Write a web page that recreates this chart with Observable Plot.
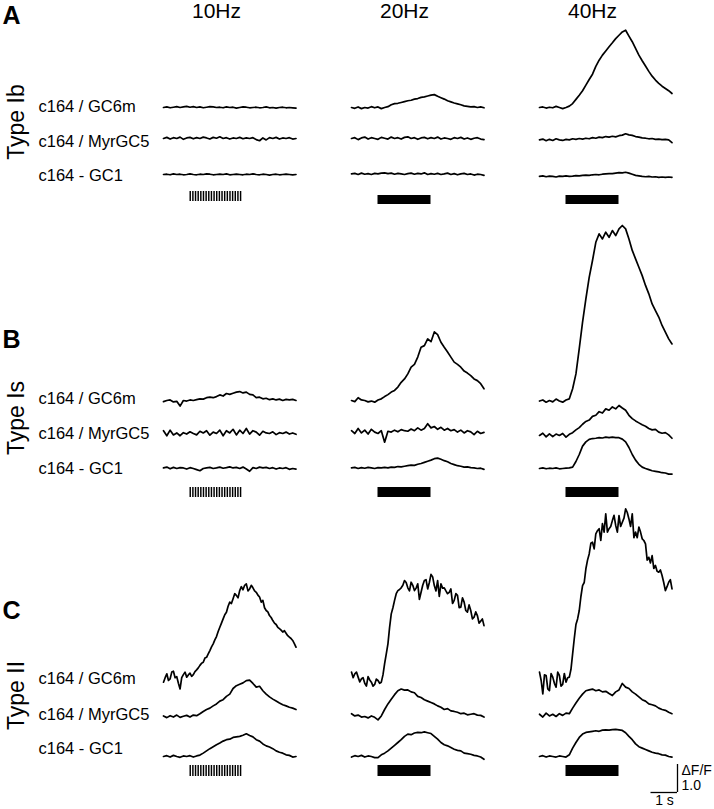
<!DOCTYPE html>
<html>
<head>
<meta charset="utf-8">
<script src="https://cdn.jsdelivr.net/npm/d3@7"></script>
<script src="https://cdn.jsdelivr.net/npm/@observablehq/plot@0.6"></script>
<style>
  html, body { margin: 0; padding: 0; background: #fff; }
  #chart svg { display: block; }
</style>
</head>
<body>
<div id="chart"></div>
<script>
// ---------------- data ----------------
const frequencies = ["10Hz", "20Hz", "40Hz"];
const panels = ["A", "B", "C"];
const panelTypes = ["Type Ib", "Type Is", "Type II"];
const sensors = ["c164 / GC6m", "c164 / MyrGC5", "c164 - GC1"];
const traceDuration = 5;      // s, each trace
const stimStart = 1;          // s
const stimDuration = 2;       // s
const stimRates = [10, 20, 40];
const scaleBarTime = 1;       // s
const scaleBarDF = 1.0;       // ΔF/F

// ΔF/F traces, samples evenly spaced over traceDuration
// Panel A — Type Ib
const A10_GC6m   = [0.0,0.02,-0.01,0.01,0.03,0.0,0.02,0.04,0.01,0.03,0.0,0.02,-0.01,0.01,0.03,0.02,0.0,0.01,-0.01,0.02,0.0,0.01,-0.02,0.0,0.02,0.01,-0.01,0.0,0.01,-0.01,0.0,0.02,-0.01,0.0,-0.02,0.0,0.01,-0.01,0.0,-0.01,-0.02];
const A10_MyrGC5 = [0.0,0.04,-0.02,0.03,0.0,0.05,-0.03,0.02,0.04,-0.01,0.03,0.0,0.05,0.02,-0.02,0.04,0.01,0.06,0.0,0.03,-0.02,0.02,0.0,0.04,-0.01,0.02,0.0,0.03,-0.04,-0.08,0.02,-0.05,0.03,0.0,0.04,-0.02,0.02,0.0,0.03,-0.02,0.0];
const A10_GC1    = [0.0,0.01,-0.01,0.02,0.0,0.01,-0.01,0.0,0.02,0.0,-0.01,0.01,0.0,0.02,0.01,-0.01,0.0,0.01,0.0,0.02,-0.01,0.0,0.01,0.0,-0.01,0.01,0.0,0.02,0.0,-0.01,0.01,0.0,-0.02,0.0,0.01,-0.01,0.0,0.01,0.0,-0.01,0.0];
const A20_GC6m   = [0.0,-0.03,0.02,-0.04,0.0,-0.02,0.03,-0.01,0.02,-0.04,0.0,0.03,0.1,0.14,0.15,0.18,0.21,0.24,0.26,0.3,0.32,0.36,0.38,0.41,0.44,0.46,0.4,0.35,0.3,0.24,0.2,0.16,0.13,0.1,0.06,0.04,0.02,0.03,0.0,0.02,-0.01];
const A20_MyrGC5 = [0.0,0.03,-0.04,0.02,0.05,-0.02,0.03,0.0,-0.03,0.04,0.01,-0.02,0.05,0.0,0.03,-0.02,0.04,0.06,0.0,0.03,-0.03,0.02,0.04,-0.01,0.03,0.0,0.05,-0.02,0.02,0.0,-0.03,0.03,0.0,0.04,-0.02,0.02,-0.03,0.01,0.03,-0.02,-0.04];
const A20_GC1    = [0.02,0.04,0.0,0.05,0.01,0.03,0.0,0.04,0.02,0.05,0.06,0.03,0.05,0.01,0.04,0.02,0.0,0.03,0.05,0.01,0.04,0.02,0.06,0.0,0.03,0.01,0.04,0.0,0.02,0.05,0.0,0.03,-0.01,0.02,0.04,0.0,0.02,-0.02,0.01,0.0,-0.03];
const A40_GC6m   = [0.0,0.02,-0.02,0.01,-0.01,0.04,0.0,-0.04,0.0,0.05,0.14,0.29,0.44,0.6,0.8,1.0,1.19,1.47,1.69,1.87,2.02,2.17,2.31,2.46,2.58,2.7,2.76,2.55,2.35,2.11,1.87,1.67,1.48,1.29,1.12,0.98,0.86,0.76,0.68,0.6,0.5];
const A40_MyrGC5 = [-0.05,-0.02,-0.08,-0.03,-0.07,-0.01,-0.05,-0.07,-0.03,-0.05,-0.01,-0.03,0.0,-0.02,0.01,-0.01,0.03,0.01,0.05,0.03,0.07,0.05,0.08,0.06,0.1,0.12,0.17,0.13,0.11,0.07,0.05,0.02,0.01,-0.01,0.0,-0.03,-0.02,-0.04,-0.03,-0.05,-0.15];
const A40_GC1    = [-0.07,-0.05,-0.08,-0.06,-0.07,-0.09,-0.06,-0.07,-0.05,-0.07,-0.06,-0.04,-0.05,-0.03,-0.02,-0.03,-0.01,0.0,-0.01,0.01,0.02,0.03,0.03,0.05,0.07,0.06,0.08,0.05,0.01,-0.03,-0.05,-0.07,-0.08,-0.07,-0.09,-0.08,-0.1,-0.09,-0.1,-0.09,-0.1];
// Panel B — Type Is
const B10_GC6m   = [-0.04,0.0,0.02,-0.05,-0.03,-0.2,0.0,-0.02,0.02,0.0,0.03,0.06,0.05,0.1,0.12,0.1,0.14,0.2,0.16,0.25,0.22,0.26,0.3,0.32,0.27,0.3,0.22,0.2,0.1,0.12,0.06,0.08,0.03,0.06,0.02,0.05,0.0,0.04,0.02,0.04,0.0];
const B10_MyrGC5 = [0.1,-0.08,0.12,-0.05,0.02,-0.08,0.03,-0.02,0.06,0.0,-0.05,0.08,0.02,0.1,-0.06,0.05,0.0,0.12,-0.08,0.1,0.02,0.15,-0.05,0.12,0.0,0.18,-0.02,0.1,0.05,-0.06,0.08,0.02,0.0,0.06,-0.04,0.03,0.0,0.05,-0.02,0.02,-0.03];
const B10_GC1    = [0.02,0.05,-0.01,0.04,0.0,0.03,0.02,-0.02,0.03,0.0,-0.04,-0.08,0.0,0.02,0.04,0.0,0.02,0.05,0.01,0.03,0.06,0.02,0.04,0.0,0.05,-0.02,-0.1,0.03,0.0,0.05,0.02,0.04,0.0,0.03,-0.02,0.02,0.0,0.03,-0.03,0.0,-0.02];
const B20_GC6m   = [0.0,-0.04,0.1,0.02,0.0,-0.05,-0.02,-0.06,0.02,0.06,0.14,0.21,0.3,0.36,0.48,0.65,0.77,0.95,1.19,1.29,1.55,1.9,1.96,2.2,2.1,2.45,2.35,2.08,1.9,1.73,1.55,1.37,1.29,1.19,1.05,0.98,0.89,0.77,0.71,0.6,0.42];
const B20_MyrGC5 = [0.1,0.0,0.18,0.02,0.12,-0.02,0.15,0.05,0.0,0.1,-0.31,0.08,0.05,0.12,0.06,0.14,0.1,0.08,0.16,0.1,0.2,0.12,0.18,0.35,0.2,0.25,0.15,0.22,0.12,0.18,0.1,0.14,0.05,0.12,0.02,0.1,0.06,-0.04,0.08,0.0,0.04];
const B20_GC1    = [0.02,0.04,0.0,0.03,0.01,0.04,0.02,0.0,0.03,0.02,0.04,0.02,0.05,0.04,0.07,0.06,0.08,0.1,0.12,0.11,0.15,0.18,0.22,0.26,0.3,0.35,0.37,0.33,0.28,0.24,0.18,0.14,0.1,0.08,0.05,0.06,0.03,0.02,0.0,0.01,-0.03];
const B40_GC6m   = [-0.02,0.02,-0.06,0.0,-0.05,0.05,-0.02,-0.06,0.02,0.06,0.42,0.95,1.85,2.8,3.63,4.4,5.0,5.65,5.95,5.77,6.01,5.83,6.07,5.89,6.13,6.25,6.13,5.77,5.36,5.06,4.76,4.46,4.11,3.81,3.45,3.21,2.98,2.68,2.44,2.2,2.02];
const B40_MyrGC5 = [-0.07,0.01,-0.12,-0.01,-0.11,-0.02,-0.07,0.0,-0.13,-0.03,0.03,0.13,0.21,0.33,0.43,0.48,0.61,0.65,0.78,0.73,0.88,0.83,0.95,0.88,1.0,0.91,0.83,0.65,0.53,0.45,0.38,0.31,0.26,0.18,0.13,0.15,0.05,0.01,0.03,-0.05,-0.17];
const B40_GC1    = [0.0,0.02,-0.01,0.01,0.0,0.02,-0.01,0.0,0.01,0.02,0.05,0.25,0.5,0.8,0.95,1.04,1.07,1.08,1.1,1.09,1.12,1.1,1.12,1.1,1.1,1.05,0.95,0.75,0.5,0.3,0.15,0.05,0.0,-0.04,-0.08,-0.1,-0.12,-0.15,-0.16,-0.2,-0.2];
// Panel C — Type II
const C10_GC6m   = [-0.06,0.1,0.24,0.0,0.06,0.3,0.33,0.1,0.14,-0.1,-0.3,0.1,0.21,0.3,0.12,0.2,0.26,0.15,0.21,0.32,0.38,0.45,0.54,0.62,0.65,0.8,0.83,0.95,1.07,1.2,1.31,1.45,1.57,1.75,1.9,2.05,2.2,2.35,2.44,2.65,2.8,2.75,2.92,3.1,3.04,2.95,3.21,3.35,3.24,3.4,3.45,3.2,3.27,3.4,3.31,3.2,3.15,3.05,2.98,2.8,2.86,2.6,2.5,2.45,2.32,2.25,2.14,2.05,2.0,1.9,1.85,1.8,1.73,1.78,1.69,1.6,1.55,1.5,1.43,1.32,1.19];
const C10_MyrGC5 = [0.02,-0.04,0.03,-0.02,0.05,-0.03,0.01,0.04,-0.02,0.05,0.03,0.1,0.18,0.25,0.3,0.38,0.45,0.55,0.6,0.72,0.8,1.0,1.1,1.15,1.2,1.28,1.3,1.18,1.05,1.08,0.92,0.8,0.7,0.62,0.55,0.48,0.42,0.38,0.33,0.3,0.25];
const C10_GC1    = [0.0,0.03,-0.02,0.04,0.0,-0.03,0.02,0.0,0.03,-0.02,0.02,0.05,0.12,0.2,0.28,0.35,0.42,0.48,0.55,0.6,0.62,0.68,0.7,0.72,0.76,0.81,0.75,0.7,0.6,0.55,0.45,0.38,0.34,0.28,0.2,0.15,0.12,0.06,0.04,-0.02,0.0];
const C20_GC6m   = [0.3,0.1,0.24,0.3,0.12,-0.05,0.06,0.1,-0.1,-0.2,0.14,0.02,-0.06,-0.2,-0.14,0.05,0.0,-0.1,-0.06,0.2,0.6,0.95,1.31,1.9,2.38,2.6,2.86,3.1,3.21,3.25,3.31,3.4,3.57,3.5,3.31,3.2,3.51,3.4,3.21,3.3,3.45,2.9,3.15,3.4,3.57,3.6,3.27,3.5,3.79,3.7,3.39,3.2,3.57,3.0,3.45,3.3,3.31,3.2,3.1,3.15,3.27,2.75,2.86,3.1,3.04,2.6,2.62,2.95,2.8,2.5,2.44,2.7,2.5,2.2,2.26,2.45,2.32,2.05,2.12,2.2,1.96];
const C20_MyrGC5 = [0.1,0.02,0.05,-0.02,0.0,-0.05,0.02,-0.03,-0.12,0.02,0.25,0.45,0.62,0.78,0.92,0.98,0.94,0.95,0.88,0.85,0.72,0.68,0.6,0.55,0.5,0.45,0.38,0.33,0.25,0.28,0.2,0.18,0.15,0.1,0.12,0.06,0.08,0.1,0.05,0.04,-0.02];
const C20_GC1    = [-0.02,0.03,0.0,0.04,-0.02,0.02,0.0,-0.04,-0.04,0.06,0.12,0.2,0.3,0.4,0.5,0.6,0.72,0.8,0.78,0.84,0.86,0.85,0.88,0.85,0.82,0.72,0.62,0.5,0.42,0.38,0.32,0.26,0.22,0.2,0.12,0.1,0.08,0.04,0.02,-0.02,-0.1];
const C40_GC6m   = [0.3,0.0,-0.48,0.2,0.18,-0.3,-0.36,0.25,0.12,-0.1,-0.24,0.3,0.18,-0.2,-0.14,0.25,-0.06,0.1,0.12,0.4,0.95,1.5,2.0,2.2,2.5,3.0,3.39,3.5,3.99,4.3,4.52,4.9,4.94,4.7,5.24,5.35,5.42,5.0,5.6,5.3,5.95,5.3,5.42,5.5,5.71,5.9,5.54,5.3,5.89,5.5,5.65,5.8,6.13,6.0,5.77,5.5,5.95,5.1,5.3,5.1,5.48,5.3,5.06,5.0,4.88,4.3,4.4,4.2,4.46,4.0,4.11,3.9,3.87,3.95,3.75,3.5,3.21,3.35,3.51,3.6,3.27];
const C40_MyrGC5 = [0.08,-0.02,0.12,0.02,0.08,0.0,0.1,0.04,0.12,0.1,0.3,0.48,0.65,0.8,0.92,0.95,0.98,0.92,0.95,0.88,0.9,0.82,0.75,0.88,0.95,1.18,1.05,1.0,0.88,0.8,0.7,0.6,0.55,0.45,0.42,0.38,0.3,0.25,0.22,0.15,0.1];
const C40_GC1    = [0.0,0.03,-0.02,0.02,0.0,-0.02,0.02,0.0,-0.02,0.06,0.3,0.5,0.68,0.8,0.86,0.88,0.9,0.92,0.9,0.94,0.95,0.94,0.96,0.97,0.95,0.93,0.85,0.72,0.6,0.45,0.35,0.3,0.25,0.2,0.15,0.12,0.1,0.06,0.05,0.0,-0.02];

// traces[panel][frequency index][sensor index]
const traces = {
  A: [[A10_GC6m, A10_MyrGC5, A10_GC1], [A20_GC6m, A20_MyrGC5, A20_GC1], [A40_GC6m, A40_MyrGC5, A40_GC1]],
  B: [[B10_GC6m, B10_MyrGC5, B10_GC1], [B20_GC6m, B20_MyrGC5, B20_GC1], [B40_GC6m, B40_MyrGC5, B40_GC1]],
  C: [[C10_GC6m, C10_MyrGC5, C10_GC1], [C20_GC6m, C20_MyrGC5, C20_GC1], [C40_GC6m, C40_MyrGC5, C40_GC1]]
};

// ---------------- layout (pixels) ----------------
const W = 714, H = 809;
const PX_PER_S = 26.5, PX_PER_DF = 28;
const firstColPx = 163, colStepPx = 188;
const colOffset = fi => fi * colStepPx / PX_PER_S;     // column shift in time units
const X = px => (px - firstColPx) / PX_PER_S;           // pixel -> x units
const Y = px => -px / PX_PER_DF;                        // pixel -> y units
const rowBase = { A: [107, 138, 174], B: [400, 433, 468], C: [680, 716, 756] };
const stimRowPx = {
  A: { tick: [191, 201], bar: [195, 204] },
  B: { tick: [487, 497], bar: [487, 497] },
  C: { tick: [765, 776], bar: [765, 776] }
};
const labelY = { A: [106.5, 141, 175], B: [398, 433.5, 468], C: [678, 714, 748] };
const letterBaseline = { A: 23, B: 347, C: 618 };
const typeCenter = { A: 121.5, B: 417.5, C: 695 };
const FONT = "'Liberation Sans', Arial, Helvetica, sans-serif";

// ---------------- build mark data ----------------
const lineData = [];
panels.forEach(p => frequencies.forEach((f, fi) => sensors.forEach((s, si) => {
  const vals = traces[p][fi][si];
  const n = vals.length;
  vals.forEach((v, i) => lineData.push({
    key: `${p}-${f}-${si}`,
    t: colOffset(fi) + i * traceDuration / (n - 1),
    y: Y(rowBase[p][si]) + v
  }));
})));

const pulseData = [];   // 10 Hz individual pulses
const barData = [];     // 20 / 40 Hz trains, drawn as solid bars
panels.forEach(p => {
  const nPulses = stimRates[0] * stimDuration;
  for (let k = 0; k < nPulses; k++) {
    const t = stimStart + k / stimRates[0];
    pulseData.push({ x1: t, x2: t + 0.55 / stimRates[0], y1: Y(stimRowPx[p].tick[1]), y2: Y(stimRowPx[p].tick[0]) });
  }
  [1, 2].forEach(fi => barData.push({
    x1: colOffset(fi) + stimStart, x2: colOffset(fi) + stimStart + stimDuration,
    y1: Y(stimRowPx[p].bar[1]), y2: Y(stimRowPx[p].bar[0])
  }));
});

const headerData = frequencies.map((f, fi) => ({ label: f, x: colOffset(fi) + stimStart + stimDuration / 2, y: Y(10.5) }));
const rowLabelData = [];
panels.forEach(p => sensors.forEach((s, si) => rowLabelData.push({ label: s, x: X(38), y: Y(labelY[p][si]) })));
const letterData = panels.map(p => ({ label: p, x: X(2), y: Y(letterBaseline[p]) }));
const typeData = panels.map((p, pi) => ({ label: panelTypes[pi], x: X(16), y: Y(typeCenter[p]) }));

// scale bar in the 40 Hz column, bottom right
const sbRight = X(677);
const sbBottom = Y(792);
const scaleH = [{ x1: sbRight - scaleBarTime, x2: sbRight, y: sbBottom }];
const scaleV = [{ x: sbRight, y1: sbBottom, y2: sbBottom + scaleBarDF }];
const scaleText = [
  { label: "ΔF/F", x: X(681), y: Y(770), anchor: "start" },
  { label: scaleBarDF.toFixed(1), x: X(681), y: Y(785), anchor: "start" },
  { label: `${scaleBarTime} s`, x: X(664), y: Y(800), anchor: "middle" }
];

// ---------------- plot ----------------
const chart = Plot.plot({
  width: W, height: H,
  marginLeft: 0, marginRight: 0, marginTop: 0, marginBottom: 0,
  x: { domain: [X(0), X(W)], axis: null },
  y: { domain: [Y(H), 0], axis: null },
  style: { background: "#fff", fontFamily: FONT, color: "#000" },
  marks: [
    Plot.line(lineData, { x: "t", y: "y", z: "key", stroke: "#000", strokeWidth: 1.7, strokeLinejoin: "round" }),
    Plot.rect(pulseData, { x1: "x1", x2: "x2", y1: "y1", y2: "y2", fill: "#000" }),
    Plot.rect(barData, { x1: "x1", x2: "x2", y1: "y1", y2: "y2", fill: "#000" }),
    Plot.ruleY(scaleH, { x1: "x1", x2: "x2", y: "y", stroke: "#000", strokeWidth: 1.3 }),
    Plot.ruleX(scaleV, { x: "x", y1: "y1", y2: "y2", stroke: "#000", strokeWidth: 1.3 }),
    Plot.text(headerData, { x: "x", y: "y", text: "label", fontSize: 21, textAnchor: "middle", lineAnchor: "middle", fill: "#000" }),
    Plot.text(rowLabelData, { x: "x", y: "y", text: "label", fontSize: 16.5, textAnchor: "start", lineAnchor: "middle", fill: "#000" }),
    Plot.text(letterData, { x: "x", y: "y", text: "label", fontSize: 25, fontWeight: "bold", textAnchor: "start", lineAnchor: "bottom", fill: "#000" }),
    Plot.text(typeData, { x: "x", y: "y", text: "label", fontSize: 23, rotate: -90, textAnchor: "middle", lineAnchor: "middle", fill: "#000" }),
    Plot.text(scaleText.filter(d => d.anchor === "start"), { x: "x", y: "y", text: "label", fontSize: 14, textAnchor: "start", lineAnchor: "middle", fill: "#000" }),
    Plot.text(scaleText.filter(d => d.anchor === "middle"), { x: "x", y: "y", text: "label", fontSize: 14, textAnchor: "middle", lineAnchor: "middle", fill: "#000" })
  ]
});
document.getElementById("chart").append(chart);
</script>
</body>
</html>
